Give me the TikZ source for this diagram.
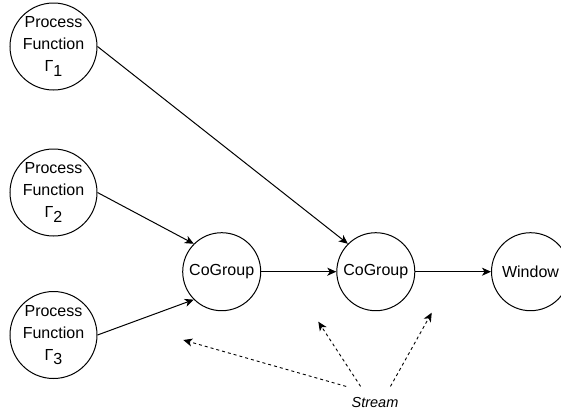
\documentclass[tikz,border=0pt]{standalone}
\usepackage{fontspec}
\setmainfont{Liberation Sans}
\usetikzlibrary{arrows.meta}
\newcommand{\gammaidx}[1]{Γ\raisebox{-4.5pt}{#1}}
\begin{document}
\begin{tikzpicture}[x=1pt, y=-1pt]
  \tikzset{
    proc/.style={circle, draw, line width=1pt, minimum size=87pt, inner sep=0pt,
                 align=center, font=\fontsize{16}{22}\selectfont},
    op/.style={circle, draw, line width=1pt, minimum size=78pt, inner sep=0pt,
               font=\fontsize{16}{19}\selectfont},
    flow/.style={-{Stealth[length=9pt, width=8pt, inset=2.5pt]}, line width=1pt},
    hint/.style={-{Stealth[length=9pt, width=8pt, inset=2.5pt]}, line width=0.9pt,
                 dash pattern=on 3pt off 3pt},
  }
  \useasboundingbox (0,0) rectangle (561,416);
  \clip (0,0) rectangle (561,416);

  % process functions
  \node[proc] (p1) at (53.5,46.5)  {Process\\Function\\\gammaidx{1}};
  \node[proc] (p2) at (53.5,192.5) {Process\\Function\\\gammaidx{2}};
  \node[proc] (p3) at (53.5,335)   {Process\\Function\\\gammaidx{3}};

  % operators
  \node[op] (cg1) at (221.7,271.7) {CoGroup};
  \node[op] (cg2) at (375.8,271.7) {CoGroup};
  \node[op] (win) at (530.5,271.7) {Window};

  % stream label and the points its hints aim at
  \node[font=\itshape\fontsize{14.5}{17}\selectfont, minimum width=60pt,
        minimum height=31.6pt, inner sep=0pt] (stream) at (375,402.4) {Stream};
  \coordinate (t1) at (183.3,340);
  \coordinate (t2) at (318.3,321.7);
  \coordinate (t3) at (431.7,312.7);

  % data flow
  \draw[flow] (p1.east) -- (cg2.135);
  \draw[flow] (p2.east) -- (cg1.135);
  \draw[flow] (p3.east) -- (cg1.225);
  \draw[flow] (cg1) -- (cg2);
  \draw[flow] (cg2) -- (win);

  % stream hints
  \draw[hint] (stream.151) -- (t1);
  \draw[hint] (stream.132) -- (t2);
  \draw[hint] (stream.46.5) -- (t3);
\end{tikzpicture}
\end{document}
